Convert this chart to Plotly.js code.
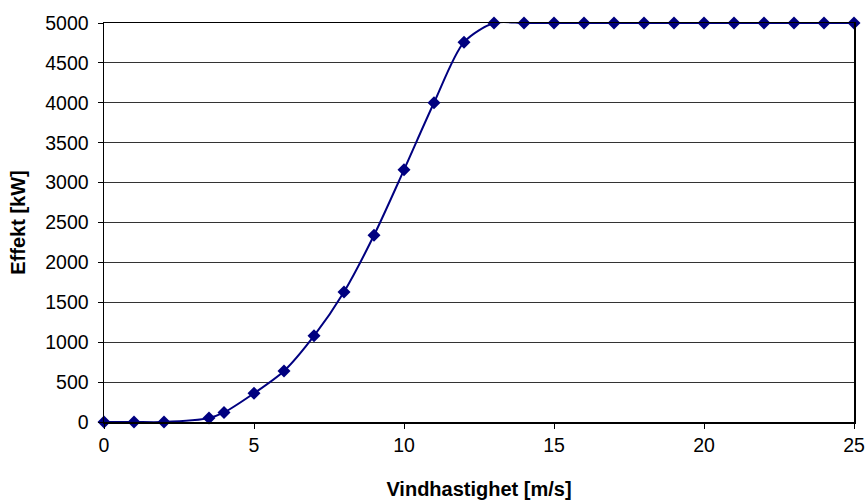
<!DOCTYPE html>
<html>
<head>
<meta charset="utf-8">
<script src="https://cdn.plot.ly/plotly-3.0.1.min.js"></script>
<style>
  html, body { margin: 0; padding: 0; background: #fff; }
  #chart { width: 866px; height: 500px; }
</style>
</head>
<body>
<div id="chart"></div>
<script>
// Wind speed (m/s) and turbine output (kW) — power curve
const windSpeed = [0, 1, 2, 3.5, 4, 5, 6, 7, 8, 9, 10, 11, 12, 13, 14, 15, 16, 17, 18, 19, 20, 21, 22, 23, 24, 25];
const powerKW   = [0, 0, 0, 50, 120, 360, 640, 1080, 1630, 2340, 3160, 4000, 4760, 5000, 5000, 5000, 5000, 5000, 5000, 5000, 5000, 5000, 5000, 5000, 5000, 5000];

const xTicks = [0, 5, 10, 15, 20, 25];
const yTicks = [0, 500, 1000, 1500, 2000, 2500, 3000, 3500, 4000, 4500, 5000];

const navy = '#000080';
const fontFamily = '"Liberation Sans", Arial, sans-serif';

const trace = {
  x: windSpeed,
  y: powerKW,
  type: 'scatter',
  mode: 'lines+markers',
  line: { color: navy, width: 2, shape: 'spline', smoothing: 0.8 },
  marker: { symbol: 'diamond', size: 10, color: navy },
  cliponaxis: false,
  hoverinfo: 'x+y'
};

const layout = {
  width: 866,
  height: 500,
  margin: { l: 104, r: 12, t: 23, b: 78 },
  paper_bgcolor: '#ffffff',
  plot_bgcolor: '#ffffff',
  showlegend: false,
  font: { family: fontFamily, color: '#000', size: 19 },
  xaxis: {
    range: [0, 25],
    tickvals: xTicks,
    ticktext: xTicks.map(String),
    ticks: 'outside',
    ticklen: 5,
    tickwidth: 1,
    tickcolor: '#000',
    showgrid: false,
    zeroline: false,
    showline: true,
    linecolor: '#000',
    linewidth: 1.5,
    mirror: true,
    tickfont: { size: 19.5 },
    automargin: false,
    title: {
      text: 'Vindhastighet [m/s]',
      font: { size: 20, family: fontFamily, weight: 'bold' },
      standoff: 30
    }
  },
  yaxis: {
    range: [0, 5000],
    tickvals: yTicks,
    ticktext: yTicks.map(String),
    ticks: 'outside',
    ticklen: 5,
    tickwidth: 1,
    tickcolor: '#000',
    ticklabelstandoff: 5,
    showgrid: true,
    gridcolor: '#333',
    gridwidth: 1,
    zeroline: false,
    showline: true,
    linecolor: '#000',
    linewidth: 1.5,
    mirror: true,
    tickfont: { size: 19.5 },
    automargin: false,
    title: {
      text: 'Effekt [kW]',
      font: { size: 20, family: fontFamily, weight: 'bold' },
      standoff: 14
    }
  }
};

Plotly.newPlot('chart', [trace], layout, { displayModeBar: false, staticPlot: true });
</script>
</body>
</html>
